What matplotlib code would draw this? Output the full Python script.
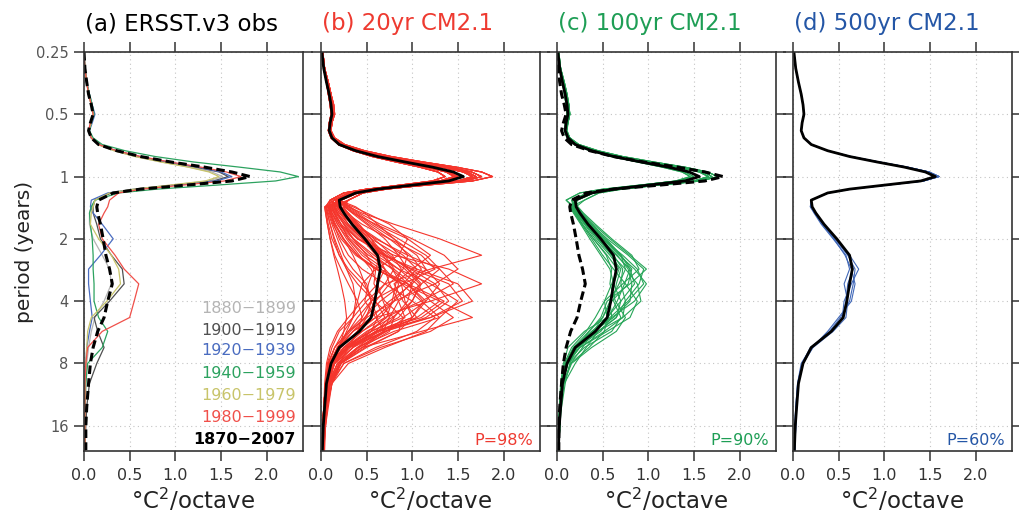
import numpy as np
import matplotlib.pyplot as plt
from matplotlib.ticker import NullLocator

# period grid (years): annual-cycle part and interannual part
PER_HIGH = [0.25, 0.3, 0.35, 0.4, 0.45, 0.5, 0.55, 0.6, 0.65, 0.7, 0.75,
            0.8, 0.85, 0.9, 0.95, 1.0, 1.05, 1.1, 1.15, 1.2, 1.3]
PER_LOW = [1.4, 1.5, 1.7, 2.0, 2.4, 2.8, 3.3, 4.0, 4.8, 5.6, 6.7, 8.0, 10, 13, 16, 21]

# observed spectra (°C^2/octave), panel (a)
OBS_ALL_HIGH = [0.0, 0.01, 0.03, 0.05, 0.08, 0.10, 0.07, 0.05, 0.08, 0.16, 0.36,
                0.62, 0.95, 1.32, 1.62, 1.82, 1.62, 1.12, 0.62, 0.32, 0.16]
OBS_ALL_LOW = [0.14, 0.15, 0.18, 0.21, 0.24, 0.28, 0.31, 0.26, 0.22, 0.15, 0.10,
               0.07, 0.05, 0.03, 0.02, 0.02]
OBS_1880_HIGH = [0.0, 0.01, 0.03, 0.05, 0.08, 0.10, 0.07, 0.05, 0.08, 0.15, 0.33,
                 0.56, 0.85, 1.15, 1.40, 1.52, 1.36, 0.95, 0.55, 0.28, 0.12]
OBS_1880_LOW = [0.08, 0.06, 0.06, 0.10, 0.20, 0.28, 0.30, 0.22, 0.12, 0.08, 0.05,
                0.03, 0.02, 0.015, 0.01, 0.01]
OBS_1900_HIGH = [0.0, 0.01, 0.03, 0.05, 0.08, 0.11, 0.08, 0.05, 0.08, 0.16, 0.35,
                 0.60, 0.90, 1.22, 1.48, 1.58, 1.42, 1.00, 0.58, 0.30, 0.12]
OBS_1900_LOW = [0.10, 0.10, 0.14, 0.18, 0.30, 0.42, 0.44, 0.28, 0.11, 0.15, 0.22,
                0.14, 0.06, 0.03, 0.02, 0.01]
OBS_1920_HIGH = [0.0, 0.01, 0.03, 0.06, 0.09, 0.12, 0.09, 0.06, 0.08, 0.16, 0.35,
                 0.61, 0.92, 1.25, 1.50, 1.62, 1.45, 1.00, 0.56, 0.26, 0.08]
OBS_1920_LOW = [0.07, 0.10, 0.20, 0.32, 0.18, 0.05, 0.05, 0.07, 0.09, 0.06, 0.03,
                0.02, 0.01, 0.01, 0.01, 0.01]
OBS_1940_HIGH = [0.0, 0.01, 0.03, 0.06, 0.09, 0.11, 0.08, 0.06, 0.10, 0.20, 0.45,
                 0.78, 1.20, 1.70, 2.15, 2.35, 2.10, 1.45, 0.80, 0.38, 0.12]
OBS_1940_LOW = [0.08, 0.06, 0.07, 0.09, 0.10, 0.10, 0.11, 0.11, 0.16, 0.26, 0.20,
                0.04, 0.02, 0.01, 0.01, 0.01]
OBS_1960_HIGH = [0.0, 0.01, 0.03, 0.05, 0.08, 0.10, 0.08, 0.05, 0.08, 0.15, 0.33,
                 0.56, 0.84, 1.14, 1.37, 1.48, 1.33, 0.94, 0.55, 0.28, 0.12]
OBS_1960_LOW = [0.10, 0.08, 0.07, 0.16, 0.30, 0.38, 0.40, 0.25, 0.08, 0.04, 0.03,
                0.02, 0.01, 0.01, 0.01, 0.01]
OBS_1980_HIGH = [0.0, 0.01, 0.03, 0.05, 0.08, 0.10, 0.07, 0.05, 0.08, 0.16, 0.36,
                 0.62, 0.94, 1.28, 1.56, 1.72, 1.54, 1.08, 0.64, 0.38, 0.28]
OBS_1980_LOW = [0.26, 0.22, 0.16, 0.20, 0.34, 0.44, 0.60, 0.55, 0.50, 0.20, 0.04,
                0.02, 0.01, 0.01, 0.01, 0.01]

OBS_LABELS = ['1880−1899', '1900−1919', '1920−1939', '1940−1959',
              '1960−1979', '1980−1999', '1870−2007']
OBS_COLORS = ['#b4b4b4', '#505050', '#4a6cc0', '#2ca25f', '#c8c46a', '#f0504a', 'black']

# long-run CM2.1 mean spectrum
MEAN_HIGH = [0.01, 0.03, 0.06, 0.09, 0.11, 0.12, 0.10, 0.09, 0.12, 0.20, 0.38,
             0.62, 0.92, 1.22, 1.45, 1.56, 1.40, 1.00, 0.62, 0.38, 0.20]
MEAN_LOW = [0.21, 0.25, 0.34, 0.48, 0.62, 0.65, 0.62, 0.59, 0.55, 0.42, 0.20,
            0.11, 0.06, 0.04, 0.025, 0.015]

# annual-cycle shapes of individual model segments
H_VARIANTS = [
    [0.01, 0.03, 0.06, 0.09, 0.11, 0.12, 0.10, 0.09, 0.12, 0.19, 0.35, 0.56, 0.82, 1.08, 1.28, 1.36, 1.22, 0.86, 0.52, 0.30, 0.14],
    [0.01, 0.04, 0.07, 0.10, 0.12, 0.13, 0.11, 0.10, 0.13, 0.21, 0.38, 0.60, 0.88, 1.15, 1.37, 1.46, 1.30, 0.92, 0.56, 0.33, 0.16],
    [0.01, 0.03, 0.06, 0.09, 0.11, 0.12, 0.10, 0.09, 0.12, 0.20, 0.38, 0.62, 0.92, 1.22, 1.45, 1.56, 1.40, 1.00, 0.62, 0.38, 0.20],
    [0.02, 0.04, 0.08, 0.11, 0.13, 0.14, 0.12, 0.10, 0.13, 0.22, 0.42, 0.68, 1.00, 1.32, 1.56, 1.66, 1.50, 1.08, 0.66, 0.40, 0.22],
    [0.01, 0.03, 0.07, 0.10, 0.12, 0.13, 0.11, 0.10, 0.14, 0.24, 0.45, 0.72, 1.06, 1.40, 1.65, 1.76, 1.58, 1.12, 0.68, 0.40, 0.20],
    [0.02, 0.04, 0.08, 0.11, 0.14, 0.15, 0.12, 0.11, 0.15, 0.26, 0.48, 0.77, 1.12, 1.48, 1.76, 1.88, 1.66, 1.16, 0.70, 0.40, 0.20],
    [0.01, 0.03, 0.06, 0.08, 0.10, 0.11, 0.09, 0.08, 0.11, 0.19, 0.36, 0.60, 0.90, 1.18, 1.40, 1.50, 1.32, 0.90, 0.50, 0.25, 0.10],
    [0.01, 0.04, 0.07, 0.10, 0.13, 0.14, 0.12, 0.11, 0.14, 0.23, 0.43, 0.70, 1.03, 1.36, 1.60, 1.70, 1.54, 1.12, 0.72, 0.46, 0.30],
]

# 20yr segments, panel (b)
R_VARIANT = [2, 4, 1, 5, 3, 0, 6, 7, 2, 3, 1, 4, 6, 0, 7, 2, 5, 3, 1, 6, 4, 2,
             0, 7, 3, 5, 1, 6, 2, 4, 3, 0, 7, 5, 2, 6, 1, 3, 4, 0, 2, 7, 6, 3]
R_LOW = [
    [0.10, 0.12, 0.20, 0.35, 0.55, 0.70, 0.62, 0.45, 0.30, 0.18, 0.10, 0.06, 0.04, 0.03, 0.02, 0.01],
    [0.20, 0.28, 0.45, 0.75, 1.10, 1.25, 0.90, 0.55, 0.40, 0.30, 0.15, 0.08, 0.05, 0.03, 0.02, 0.02],
    [0.15, 0.18, 0.25, 0.40, 0.80, 1.40, 1.76, 1.20, 0.60, 0.35, 0.18, 0.10, 0.06, 0.04, 0.03, 0.02],
    [0.30, 0.45, 0.80, 1.30, 1.76, 1.20, 0.70, 0.50, 0.35, 0.20, 0.12, 0.07, 0.05, 0.03, 0.02, 0.02],
    [0.08, 0.10, 0.15, 0.25, 0.40, 0.60, 0.90, 1.30, 1.66, 1.10, 0.45, 0.20, 0.10, 0.06, 0.04, 0.03],
    [0.12, 0.15, 0.22, 0.30, 0.45, 0.65, 0.95, 1.15, 1.00, 0.60, 0.30, 0.12, 0.06, 0.04, 0.03, 0.02],
    [0.05, 0.06, 0.08, 0.12, 0.20, 0.30, 0.45, 0.60, 0.70, 0.55, 0.25, 0.10, 0.05, 0.03, 0.02, 0.01],
    [0.25, 0.35, 0.60, 0.95, 1.20, 1.00, 0.80, 0.90, 1.05, 0.70, 0.30, 0.15, 0.08, 0.05, 0.03, 0.02],
    [0.18, 0.22, 0.30, 0.45, 0.60, 0.85, 1.20, 1.50, 1.30, 0.80, 0.40, 0.18, 0.08, 0.05, 0.03, 0.02],
    [0.06, 0.08, 0.12, 0.18, 0.25, 0.35, 0.50, 0.55, 0.45, 0.30, 0.18, 0.10, 0.06, 0.04, 0.03, 0.02],
    [0.35, 0.50, 0.75, 0.95, 0.85, 0.60, 0.45, 0.40, 0.35, 0.25, 0.15, 0.08, 0.05, 0.03, 0.02, 0.02],
    [0.10, 0.14, 0.22, 0.40, 0.70, 1.00, 1.40, 1.55, 1.20, 0.70, 0.35, 0.15, 0.07, 0.04, 0.03, 0.02],
    [0.22, 0.30, 0.42, 0.55, 0.70, 0.80, 0.70, 0.55, 0.50, 0.40, 0.22, 0.10, 0.05, 0.03, 0.02, 0.01],
    [0.04, 0.05, 0.07, 0.10, 0.15, 0.22, 0.30, 0.40, 0.45, 0.40, 0.30, 0.20, 0.12, 0.08, 0.05, 0.03],
    [0.15, 0.20, 0.35, 0.60, 0.95, 1.30, 1.45, 1.10, 0.70, 0.45, 0.25, 0.12, 0.06, 0.04, 0.03, 0.02],
    [0.28, 0.38, 0.55, 0.80, 1.05, 1.15, 1.00, 0.75, 0.55, 0.35, 0.20, 0.10, 0.05, 0.03, 0.02, 0.02],
    [0.08, 0.10, 0.14, 0.20, 0.30, 0.45, 0.70, 1.00, 1.25, 1.05, 0.60, 0.25, 0.12, 0.06, 0.04, 0.03],
    [0.12, 0.16, 0.25, 0.35, 0.50, 0.58, 0.52, 0.48, 0.60, 0.70, 0.45, 0.20, 0.10, 0.06, 0.04, 0.03],
    [0.20, 0.25, 0.35, 0.50, 0.75, 0.95, 1.10, 1.00, 0.85, 0.55, 0.28, 0.12, 0.06, 0.04, 0.03, 0.02],
    [0.05, 0.07, 0.10, 0.15, 0.22, 0.28, 0.35, 0.38, 0.35, 0.28, 0.20, 0.13, 0.08, 0.05, 0.04, 0.03],
    [0.32, 0.42, 0.65, 1.00, 1.35, 1.50, 1.25, 0.80, 0.50, 0.30, 0.15, 0.08, 0.05, 0.03, 0.02, 0.02],
    [0.14, 0.18, 0.28, 0.45, 0.65, 0.85, 1.05, 1.20, 1.45, 1.20, 0.65, 0.25, 0.10, 0.05, 0.03, 0.02],
    [0.10, 0.12, 0.18, 0.30, 0.48, 0.70, 0.85, 0.80, 0.65, 0.45, 0.25, 0.12, 0.06, 0.04, 0.03, 0.02],
    [0.24, 0.30, 0.40, 0.55, 0.65, 0.60, 0.58, 0.70, 0.90, 0.85, 0.50, 0.22, 0.10, 0.05, 0.03, 0.02],
    [0.07, 0.09, 0.13, 0.22, 0.38, 0.60, 0.95, 1.35, 1.10, 0.60, 0.28, 0.12, 0.06, 0.04, 0.03, 0.02],
    [0.18, 0.24, 0.38, 0.62, 0.90, 1.05, 0.90, 0.65, 0.48, 0.32, 0.18, 0.09, 0.05, 0.03, 0.02, 0.02],
    [0.26, 0.34, 0.50, 0.70, 0.85, 0.95, 1.15, 1.30, 1.05, 0.65, 0.30, 0.12, 0.06, 0.04, 0.03, 0.02],
    [0.09, 0.11, 0.16, 0.25, 0.35, 0.42, 0.48, 0.55, 0.62, 0.55, 0.35, 0.18, 0.09, 0.05, 0.03, 0.02],
    [0.16, 0.20, 0.30, 0.48, 0.72, 0.98, 1.25, 1.40, 1.15, 0.70, 0.32, 0.14, 0.07, 0.04, 0.03, 0.02],
    [0.38, 0.48, 0.62, 0.80, 0.95, 0.90, 0.75, 0.60, 0.48, 0.35, 0.20, 0.10, 0.05, 0.03, 0.02, 0.02],
    [0.11, 0.14, 0.20, 0.32, 0.52, 0.80, 1.00, 0.95, 0.80, 0.62, 0.40, 0.22, 0.12, 0.07, 0.05, 0.03],
    [0.06, 0.07, 0.10, 0.14, 0.20, 0.28, 0.40, 0.58, 0.80, 0.75, 0.45, 0.22, 0.10, 0.05, 0.03, 0.02],
    [0.20, 0.27, 0.40, 0.58, 0.78, 0.88, 0.82, 0.78, 0.72, 0.52, 0.28, 0.12, 0.06, 0.04, 0.03, 0.02],
    [0.13, 0.17, 0.26, 0.42, 0.68, 1.05, 1.50, 1.66, 1.20, 0.62, 0.28, 0.12, 0.06, 0.04, 0.03, 0.02],
    [0.30, 0.40, 0.58, 0.85, 1.15, 1.30, 1.10, 0.85, 0.75, 0.60, 0.35, 0.15, 0.07, 0.04, 0.03, 0.02],
    [0.09, 0.12, 0.18, 0.28, 0.42, 0.55, 0.62, 0.68, 0.75, 0.68, 0.42, 0.20, 0.09, 0.05, 0.03, 0.02],
    [0.22, 0.28, 0.38, 0.52, 0.68, 0.78, 0.95, 1.12, 1.00, 0.62, 0.28, 0.12, 0.06, 0.04, 0.03, 0.02],
    [0.04, 0.05, 0.07, 0.10, 0.14, 0.18, 0.22, 0.26, 0.28, 0.25, 0.20, 0.14, 0.10, 0.07, 0.05, 0.04],
    [0.17, 0.22, 0.34, 0.55, 0.85, 1.15, 1.30, 1.15, 0.90, 0.55, 0.25, 0.11, 0.06, 0.04, 0.03, 0.02],
    [0.12, 0.15, 0.22, 0.36, 0.58, 0.78, 0.88, 0.92, 1.00, 0.85, 0.48, 0.22, 0.10, 0.05, 0.03, 0.02],
    [0.27, 0.36, 0.52, 0.75, 0.98, 1.10, 0.98, 0.80, 0.60, 0.40, 0.22, 0.10, 0.05, 0.03, 0.02, 0.02],
    [0.08, 0.10, 0.15, 0.24, 0.40, 0.62, 0.88, 1.10, 1.30, 1.15, 0.70, 0.30, 0.12, 0.06, 0.04, 0.03],
    [0.19, 0.25, 0.36, 0.50, 0.62, 0.70, 0.75, 0.85, 0.92, 0.72, 0.40, 0.18, 0.08, 0.05, 0.03, 0.02],
    [0.14, 0.18, 0.28, 0.45, 0.70, 0.92, 1.08, 1.00, 0.78, 0.50, 0.26, 0.12, 0.06, 0.04, 0.03, 0.02],
]

# 100yr segments, panel (c)
G_VARIANT = [2, 3, 4, 1, 2, 6, 3, 7, 2, 4, 1, 3, 2, 6, 4, 7, 3, 2]
G_LOW = [
    [0.18, 0.22, 0.32, 0.48, 0.65, 0.80, 0.85, 0.70, 0.55, 0.30, 0.12, 0.07, 0.04, 0.03, 0.02, 0.02],
    [0.20, 0.26, 0.38, 0.55, 0.78, 0.95, 0.90, 0.75, 0.65, 0.45, 0.20, 0.10, 0.05, 0.03, 0.02, 0.02],
    [0.16, 0.20, 0.30, 0.42, 0.58, 0.70, 0.65, 0.62, 0.70, 0.60, 0.30, 0.12, 0.06, 0.04, 0.03, 0.02],
    [0.22, 0.28, 0.40, 0.58, 0.80, 0.98, 0.80, 0.55, 0.48, 0.35, 0.18, 0.09, 0.05, 0.03, 0.02, 0.02],
    [0.15, 0.19, 0.27, 0.38, 0.50, 0.62, 0.75, 0.88, 0.80, 0.55, 0.25, 0.12, 0.06, 0.04, 0.03, 0.02],
    [0.19, 0.24, 0.35, 0.52, 0.70, 0.82, 0.78, 0.60, 0.50, 0.40, 0.28, 0.15, 0.07, 0.04, 0.03, 0.02],
    [0.17, 0.21, 0.31, 0.45, 0.62, 0.72, 0.70, 0.75, 0.72, 0.52, 0.25, 0.11, 0.05, 0.03, 0.02, 0.02],
    [0.21, 0.27, 0.38, 0.54, 0.70, 0.75, 0.68, 0.58, 0.60, 0.48, 0.22, 0.10, 0.05, 0.03, 0.02, 0.02],
    [0.14, 0.18, 0.26, 0.36, 0.48, 0.58, 0.62, 0.70, 0.65, 0.45, 0.32, 0.20, 0.08, 0.04, 0.03, 0.02],
    [0.23, 0.29, 0.42, 0.60, 0.82, 0.90, 0.72, 0.52, 0.42, 0.32, 0.16, 0.08, 0.04, 0.03, 0.02, 0.02],
    [0.18, 0.23, 0.33, 0.48, 0.66, 0.78, 0.82, 0.80, 0.62, 0.40, 0.20, 0.10, 0.05, 0.03, 0.02, 0.02],
    [0.16, 0.20, 0.28, 0.40, 0.55, 0.66, 0.60, 0.52, 0.55, 0.52, 0.35, 0.15, 0.07, 0.04, 0.03, 0.02],
    [0.20, 0.25, 0.36, 0.50, 0.68, 0.85, 0.98, 0.85, 0.60, 0.38, 0.18, 0.09, 0.05, 0.03, 0.02, 0.02],
    [0.17, 0.22, 0.32, 0.46, 0.60, 0.68, 0.62, 0.58, 0.50, 0.35, 0.22, 0.14, 0.09, 0.05, 0.03, 0.02],
    [0.19, 0.24, 0.34, 0.50, 0.72, 0.88, 0.95, 0.78, 0.58, 0.42, 0.24, 0.11, 0.05, 0.03, 0.02, 0.02],
    [0.15, 0.19, 0.28, 0.40, 0.54, 0.60, 0.58, 0.64, 0.75, 0.65, 0.38, 0.16, 0.07, 0.04, 0.03, 0.02],
    [0.21, 0.26, 0.37, 0.52, 0.70, 0.80, 0.74, 0.66, 0.56, 0.38, 0.20, 0.10, 0.05, 0.03, 0.02, 0.02],
    [0.18, 0.22, 0.31, 0.44, 0.60, 0.75, 0.88, 0.92, 0.72, 0.45, 0.22, 0.10, 0.05, 0.03, 0.02, 0.02],
]

# 500yr segments, panel (d)
B_HIGH = [0.01, 0.03, 0.06, 0.09, 0.11, 0.12, 0.10, 0.09, 0.12, 0.20, 0.38,
          0.63, 0.94, 1.25, 1.49, 1.60, 1.43, 1.02, 0.63, 0.38, 0.20]
B_LOW = [
    [0.20, 0.24, 0.33, 0.46, 0.60, 0.68, 0.66, 0.62, 0.52, 0.40, 0.20, 0.10, 0.06, 0.04, 0.03, 0.02],
    [0.19, 0.23, 0.31, 0.44, 0.58, 0.62, 0.56, 0.60, 0.58, 0.44, 0.22, 0.11, 0.06, 0.04, 0.03, 0.02],
    [0.21, 0.25, 0.34, 0.48, 0.62, 0.72, 0.64, 0.56, 0.54, 0.42, 0.19, 0.10, 0.05, 0.03, 0.02, 0.02],
    [0.20, 0.24, 0.32, 0.45, 0.57, 0.64, 0.68, 0.64, 0.50, 0.38, 0.21, 0.11, 0.06, 0.04, 0.03, 0.02],
    [0.19, 0.24, 0.33, 0.47, 0.61, 0.66, 0.60, 0.58, 0.55, 0.43, 0.20, 0.09, 0.05, 0.03, 0.02, 0.02],
]

TITLES = ['(a) ERSST.v3 obs', '(b) 20yr CM2.1', '(c) 100yr CM2.1', '(d) 500yr CM2.1']
TITLE_COLORS = ['black', '#ee3a30', '#1e9e55', '#2456a6']
P_TEXT = [None, 'P=98%', 'P=90%', 'P=60%']
XTICKS = [0.0, 0.5, 1.0, 1.5, 2.0]
XTICKLABELS = ['0.0', '0.5', '1.0', '1.5', '2.0']
YTICKS = [0.25, 0.5, 1, 2, 4, 8, 16]
YTICKLABELS = ['0.25', '0.5', '1', '2', '4', '8', '16']

RED = '#f5352c'
GREEN = '#26a557'
BLUE = '#4168b8'

per = np.array(PER_HIGH + PER_LOW)
mean = np.array(MEAN_HIGH + MEAN_LOW)
obs_all = np.array(OBS_ALL_HIGH + OBS_ALL_LOW)
obs_seg = [OBS_1880_HIGH + OBS_1880_LOW, OBS_1900_HIGH + OBS_1900_LOW,
           OBS_1920_HIGH + OBS_1920_LOW, OBS_1940_HIGH + OBS_1940_LOW,
           OBS_1960_HIGH + OBS_1960_LOW, OBS_1980_HIGH + OBS_1980_LOW]

plt.rcParams['lines.solid_joinstyle'] = 'round'
plt.rcParams['lines.dash_joinstyle'] = 'round'

fig = plt.figure(figsize=(10.19, 5.16), dpi=100)
W, H = 1019.0, 516.0
lefts = [84, 321, 557, 793]
axes = []
for i, l in enumerate(lefts):
    ax = fig.add_axes([l / W, 65 / H, 219 / W, 399 / H])
    ax.set_yscale('log', base=2)
    ax.set_ylim(21.2, 0.25)
    ax.set_xlim(0, 2.4)
    ax.set_xticks(XTICKS)
    ax.set_xticklabels(XTICKLABELS)
    ax.set_yticks(YTICKS)
    ax.set_yticklabels(YTICKLABELS)
    ax.yaxis.set_minor_locator(NullLocator())
    ax.tick_params(direction='out', length=7, width=1.1, color='#333333',
                   top=True, right=True, labelsize=11.5, labelcolor='#333333', pad=5)
    ax.tick_params(axis='y', labelsize=10.5, labelcolor='#555555', pad=4,
                   labelleft=(i == 0))
    ax.grid(True, ls=(0, (1, 3)), color='#c4c4c4', lw=0.8)
    ax.set_axisbelow(True)
    for s in ax.spines.values():
        s.set_color('#333333')
        s.set_linewidth(1.2)
    ax.set_xlabel('°C$^2$/octave', fontsize=16.5, color='#222222', labelpad=3)
    ax.text(0.005, 1.055, TITLES[i], transform=ax.transAxes, ha='left',
            va='baseline', fontsize=16.5, color=TITLE_COLORS[i])
    if P_TEXT[i]:
        ax.text(0.97, 0.014, P_TEXT[i], transform=ax.transAxes, ha='right',
                va='baseline', fontsize=11.5, color=TITLE_COLORS[i])
    axes.append(ax)

# (a) observations
ax = axes[0]
for seg, c in zip(obs_seg, OBS_COLORS[:6]):
    ax.plot(seg, per, color=c, lw=0.9)
ax.plot(obs_all, per, color='black', lw=2.2, dashes=(2.8, 1.4))
leg_y = [0.358, 0.303, 0.251, 0.193, 0.140, 0.085, 0.028]
for lab, c, y in zip(OBS_LABELS, OBS_COLORS, leg_y):
    ax.text(0.968, y, lab, transform=ax.transAxes, ha='right', va='center',
            fontsize=11.5, color=c,
            fontweight='bold' if lab == '1870−2007' else 'normal')

# (b) 20yr segments
ax = axes[1]
for v, low in zip(R_VARIANT, R_LOW):
    ax.plot(H_VARIANTS[v] + low, per, color=RED, lw=0.8)
ax.plot(mean, per, color='black', lw=2.0)

# (c) 100yr segments
ax = axes[2]
for v, low in zip(G_VARIANT, G_LOW):
    ax.plot(H_VARIANTS[v] + low, per, color=GREEN, lw=0.8)
ax.plot(obs_all, per, color='black', lw=2.2, dashes=(2.8, 1.4))
ax.plot(mean, per, color='black', lw=2.0)

# (d) 500yr segments
ax = axes[3]
for low in B_LOW:
    ax.plot(B_HIGH + low, per, color=BLUE, lw=0.8)
ax.plot(mean, per, color='black', lw=2.0)

fig.text(25 / W, 1 - 252 / H, 'period (years)', rotation=90, ha='center',
         va='center', fontsize=14.5, color='#222222')

fig.savefig('out.png', dpi=100)
